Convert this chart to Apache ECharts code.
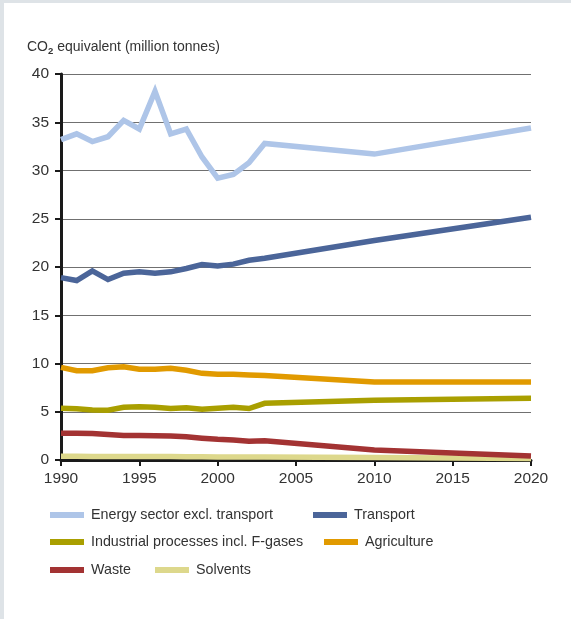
<!DOCTYPE html>
<html>
<head>
<meta charset="utf-8">
<script src="https://cdn.jsdelivr.net/npm/echarts@6/dist/echarts.min.js"></script>
<style>
html,body{margin:0;padding:0;background:#ffffff;}
#chart{position:absolute;left:0;top:0;width:571px;height:619px;}
.band{position:absolute;background:#dee3e7;}
</style>
</head>
<body>
<div id="chart"></div>
<div class="band" style="left:0;top:0;width:571px;height:3px;"></div>
<div class="band" style="left:0;top:0;width:4px;height:619px;"></div>
<script>
// ---- data ----
const yearsHist = [1990,1991,1992,1993,1994,1995,1996,1997,1998,1999,2000,2001,2002,2003,2010,2020];
const energy      = [33.2,33.8,33.0,33.5,35.2,34.3,38.2,33.8,34.3,31.4,29.2,29.6,30.8,32.8,31.7,34.4];
const transport   = [18.9,18.6,19.6,18.7,19.35,19.5,19.35,19.5,19.85,20.25,20.1,20.3,20.7,20.9,22.75,25.15];
const industrial  = [5.36,5.3,5.18,5.15,5.46,5.52,5.46,5.33,5.42,5.25,5.36,5.46,5.33,5.87,6.2,6.4];
const agriculture = [9.6,9.25,9.25,9.55,9.67,9.4,9.4,9.5,9.3,8.98,8.88,8.88,8.8,8.75,8.08,8.08];
const waste       = [2.76,2.76,2.75,2.65,2.55,2.55,2.52,2.48,2.4,2.26,2.15,2.08,1.95,2.0,1.04,0.42];
const solvents    = [0.38,0.38,0.37,0.36,0.36,0.35,0.35,0.35,0.34,0.33,0.32,0.31,0.31,0.3,0.27,0.16];
const seriesNames = ['Energy sector excl. transport','Transport','Industrial processes incl. F-gases','Agriculture','Waste','Solvents'];
const seriesColors = ['#aec5e8','#4b6599','#a99f00','#e19a00','#a33333','#ddd88c'];
const seriesValues = [energy,transport,industrial,agriculture,waste,solvents];
const yTicks = [0,5,10,15,20,25,30,35,40];
const xTicks = [1990,1995,2000,2005,2010,2015,2020];

const FONT = '"Liberation Sans",Arial,sans-serif';
const TXT = '#333333';

const chart = echarts.init(document.getElementById('chart'), null, {renderer:'canvas'});

const series = seriesValues.map((vals,i)=>({
  name: seriesNames[i],
  type: 'line',
  data: yearsHist.map((y,j)=>[y, vals[j]]),
  showSymbol: false,
  symbol: 'none',
  lineStyle: {width: 5.5, color: seriesColors[i], join: 'miter'},
  itemStyle: {color: seriesColors[i]},
  z: 10 - i,
  animation: false
}));

const legendPos = [
  {left: 50, top: 508},
  {left: 313, top: 508},
  {left: 50, top: 535},
  {left: 324, top: 535},
  {left: 50, top: 563},
  {left: 155, top: 563}
];
const legends = seriesNames.map((n,i)=>({
  data: [n],
  left: legendPos[i].left,
  top: legendPos[i].top,
  orient: 'horizontal',
  icon: 'rect',
  itemWidth: 34,
  itemHeight: 6,
  itemGap: 0,
  padding: 0,
  selectedMode: false,
  textStyle: {fontFamily: FONT, fontSize: 14.3, color: TXT, padding: [0,0,0,2]}
}));

chart.setOption({
  animation: false,
  backgroundColor: 'transparent',
  grid: {left: 61, right: 40, top: 74, bottom: 159, containLabel: false},
  title: {
    text: '{a|CO}{s|2}{a| equivalent (million tonnes)}',
    left: 27, top: 38,
    padding: 0,
    textStyle: {
      rich: {
        a: {fontFamily: FONT, fontSize: 14, color: TXT, fontWeight: 'normal'},
        s: {fontFamily: FONT, fontSize: 9.5, color: TXT, verticalAlign: 'bottom', padding: [8,0,0,0]}
      }
    }
  },
  legend: legends,
  xAxis: {
    type: 'value', min: 1990, max: 2020, interval: 5,
    axisLine: {show: true, lineStyle: {color: '#1a1a1a', width: 3}},
    axisTick: {show: true, inside: false, length: 6, lineStyle: {color: '#1a1a1a', width: 2}},
    axisLabel: {fontFamily: FONT, fontSize: 15.5, color: TXT, margin: 11, formatter: v => String(v)},
    splitLine: {show: false}
  },
  yAxis: {
    type: 'value', min: 0, max: 40, interval: 5,
    axisLine: {show: true, lineStyle: {color: '#1a1a1a', width: 3}},
    axisTick: {show: true, inside: false, length: 6, lineStyle: {color: '#1a1a1a', width: 2}},
    axisLabel: {fontFamily: FONT, fontSize: 15.5, color: TXT, margin: 12},
    splitLine: {show: true, lineStyle: {color: '#707070', width: 1}}
  },
  series: series
});
</script>
</body>
</html>
